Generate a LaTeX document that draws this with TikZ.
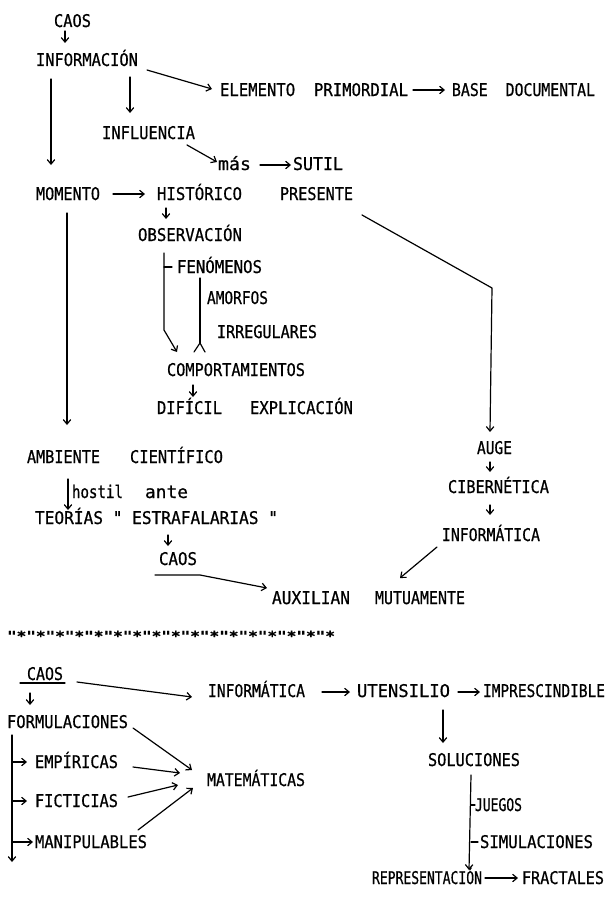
\documentclass[tikz,border=0pt]{standalone}
\usepackage{fontspec}
\usepackage{graphicx}
\usetikzlibrary{arrows.meta}
\newfontfamily\twfont[FakeBold=0.7]{DejaVu Sans Mono}
\newlength\fwlen
\newcommand\fw[2]{\settowidth\fwlen{#2}\pgfmathsetmacro\fwfac{#1/\fwlen}\scalebox{\fwfac}[1]{#2}}
\tikzset{
  txt/.style={anchor=base west, inner sep=0pt, outer sep=0pt, font=\twfont\fontsize{17.5pt}{19pt}\selectfont},
  starrow/.style={anchor=base west, inner sep=0pt, outer sep=0pt, font=\twfont\bfseries\fontsize{14pt}{16pt}\selectfont},
  ln/.style={line width=1.2pt, line cap=round, line join=round},
  arr/.style={ln, -{Straight Barb[length=4.5pt,width=7.5pt,line width=1.2pt]}}
}
\begin{document}
\begin{tikzpicture}[x=1pt,y=-1pt]
\useasboundingbox (0,0) rectangle (606,899);
% nodes
\node[txt] (caos1) at (54,27) {\fw{37}{CAOS}};
\node[txt] (info) at (36,66) {\fw{102}{INFORMACIÓN}};
\node[txt] (elem) at (220,96) {\fw{188}{ELEMENTO\ \ PRIMORDIAL}};
\node[txt] (base) at (452,96) {\fw{143}{BASE\ \ DOCUMENTAL}};
\node[txt] (infl) at (102,139) {\fw{93}{INFLUENCIA}};
\node[txt] (mas) at (218,170) {\fw{33}{más}};
\node[txt] (sutil) at (293,170) {\fw{50}{SUTIL}};
\node[txt] (momento) at (36,200) {\fw{64}{MOMENTO}};
\node[txt] (hist) at (157,200) {\fw{85}{HISTÓRICO}};
\node[txt] (pres) at (280,200) {\fw{73}{PRESENTE}};
\node[txt] (obs) at (138,241) {\fw{104}{OBSERVACIÓN}};
\node[txt] (fen) at (177,273) {\fw{85}{FENÓMENOS}};
\node[txt] (amorf) at (207,304) {\fw{61}{AMORFOS}};
\node[txt] (irreg) at (217,338) {\fw{100}{IRREGULARES}};
\node[txt] (comp) at (167,376) {\fw{138}{COMPORTAMIENTOS}};
\node[txt] (dific) at (157,414) {\fw{65}{DIFÍCIL}};
\node[txt] (expl) at (250,414) {\fw{103}{EXPLICACIÓN}};
\node[txt] (amb) at (27,463) {\fw{73}{AMBIENTE}};
\node[txt] (cient) at (130,463) {\fw{93}{CIENTÍFICO}};
\node[txt] (hostil) at (72,498) {\fw{51}{hostil}};
\node[txt] (ante) at (145,498) {\fw{43}{ante}};
\node[txt] (teor) at (35,524) {\fw{243}{TEORÍAS " ESTRAFALARIAS "}};
\node[txt] (caos2) at (159,565) {\fw{38}{CAOS}};
\node[txt] (aux) at (272,604) {\fw{78}{AUXILIAN}};
\node[txt] (mutu) at (375,604) {\fw{90}{MUTUAMENTE}};
\node[txt] (auge) at (477,454) {\fw{35}{AUGE}};
\node[txt] (ciber) at (448,493) {\fw{101}{CIBERNÉTICA}};
\node[txt] (infor1) at (442,541) {\fw{98}{INFORMÁTICA}};
\node[starrow] (stars) at (7,641) {\fw{328}{"*"*"*"*"*"*"*"*"*"*"*"*"*"*"*"*"*}};
\node[txt] (caos3) at (27,680) {\fw{36}{CAOS}};
\node[txt] (infor2) at (208,697) {\fw{97}{INFORMÁTICA}};
\node[txt] (uten) at (357,697) {\fw{93}{UTENSILIO}};
\node[txt] (impr) at (483,697) {\fw{122}{IMPRESCINDIBLE}};
\node[txt] (form) at (7,728) {\fw{121}{FORMULACIONES}};
\node[txt] (emp) at (35,768) {\fw{83}{EMPÍRICAS}};
\node[txt] (mate) at (207,786) {\fw{98}{MATEMÁTICAS}};
\node[txt] (fict) at (35,807) {\fw{83}{FICTICIAS}};
\node[txt] (manip) at (35,848) {\fw{112}{MANIPULABLES}};
\node[txt] (sol) at (428,766) {\fw{92}{SOLUCIONES}};
\node[txt] (jueg) at (475,811) {\fw{47}{JUEGOS}};
\node[txt] (simu) at (480,848) {\fw{113}{SIMULACIONES}};
\node[txt] (repr) at (372,884) {\fw{110}{REPRESENTACIÓN}};
\node[txt] (fract) at (522,884) {\fw{82}{FRACTALES}};
\coordinate (formend) at (12,862);
% connectors
\draw[arr] ([shift={(11,4)}]caos1.base west) -- ([shift={(29,-23)}]info.base west);
\draw[arr] ([shift={(111,4)}]info.base west) -- ([shift={(-8,-7)}]elem.base west);
\draw[arr] ([shift={(94,11)}]info.base west) -- ([shift={(28,-26)}]infl.base west);
\draw[arr] ([shift={(15,13)}]info.base west) -- ([shift={(15,-35)}]momento.base west);
\draw[arr] ([shift={(85,6)}]infl.base west) -- ([shift={(-1,-8)}]mas.base west);
\draw[arr] ([shift={(42,-5)}]mas.base west) -- ([shift={(-2,-5)}]sutil.base west);
\draw[arr] ([shift={(193,-6)}]elem.base west) -- ([shift={(-7,-6)}]base.base west);
\draw[arr] ([shift={(77,-6)}]momento.base west) -- ([shift={(-12,-6)}]hist.base west);
\draw[arr] ([shift={(9,8)}]hist.base west) -- ([shift={(28,-22)}]obs.base west);
\draw[arr] ([shift={(31,13)}]momento.base west) -- ([shift={(40,-38)}]amb.base west);
\draw[arr] ([shift={(26,12)}]obs.base west) -- ([shift={(26,89)}]obs.base west) -- ([shift={(10,-24)}]comp.base west);
\draw[ln] ([shift={(26,26)}]obs.base west) -- ([shift={(-5,-6)}]fen.base west);
\draw[ln] ([shift={(23,5)}]fen.base west) -- ([shift={(33,-33)}]comp.base west);
\draw[ln] ([shift={(27,-24)}]comp.base west) -- ([shift={(33,-33)}]comp.base west) -- ([shift={(38,-24)}]comp.base west);
\draw[arr] ([shift={(26,9)}]comp.base west) -- ([shift={(36,-17)}]dific.base west);
\draw[arr] ([shift={(82,15)}]pres.base west) -- ([shift={(15,-166)}]auge.base west) -- ([shift={(13,-22)}]auge.base west);
\draw[arr] ([shift={(13,8)}]auge.base west) -- ([shift={(42,-21)}]ciber.base west);
\draw[arr] ([shift={(42,12)}]ciber.base west) -- ([shift={(48,-26)}]infor1.base west);
\draw[arr] ([shift={(-5,6)}]infor1.base west) -- ([shift={(25,-26)}]mutu.base west);
\draw[arr] ([shift={(41,16)}]amb.base west) -- ([shift={(33,-14)}]teor.base west);
\draw[arr] ([shift={(133,11)}]teor.base west) -- ([shift={(9,-19)}]caos2.base west);
\draw[arr] ([shift={(-4,10)}]caos2.base west) -- ([shift={(41,10)}]caos2.base west) -- ([shift={(-5,-16)}]aux.base west);
\draw[ln] ([shift={(-7,3)}]caos3.base west) -- ([shift={(38,3)}]caos3.base west);
\draw[arr] ([shift={(50,2)}]caos3.base west) -- ([shift={(-16,0)}]infor2.base west);
\draw[arr] ([shift={(3,13)}]caos3.base west) -- ([shift={(23,-23)}]form.base west);
\draw[arr] ([shift={(126,0)}]form.base west) -- ([shift={(-15,-16)}]mate.base west);
\draw[arr] ([shift={(98,-1)}]emp.base west) -- ([shift={(-27,-13)}]mate.base west);
\draw[arr] ([shift={(93,-10)}]fict.base west) -- ([shift={(-29,-1)}]mate.base west);
\draw[arr] ([shift={(103,-18)}]manip.base west) -- ([shift={(-14,2)}]mate.base west);
\draw[arr] ([shift={(5,7)}]form.base west) -- (formend);
\draw[arr] ([shift={(-23,-6)}]emp.base west) -- ([shift={(-8,-6)}]emp.base west);
\draw[arr] ([shift={(-23,-6)}]fict.base west) -- ([shift={(-8,-6)}]fict.base west);
\draw[arr] ([shift={(-23,-6)}]manip.base west) -- ([shift={(-2,-6)}]manip.base west);
\draw[arr] ([shift={(114,-5)}]infor2.base west) -- ([shift={(-7,-5)}]uten.base west);
\draw[arr] ([shift={(101,-5)}]uten.base west) -- ([shift={(-3,-5)}]impr.base west);
\draw[arr] ([shift={(86,13)}]uten.base west) -- ([shift={(15,-23)}]sol.base west);
\draw[arr] ([shift={(43,9)}]sol.base west) -- ([shift={(97,-14)}]repr.base west);
\draw[ln] ([shift={(-4,-6)}]jueg.base west) -- ([shift={(0,-6)}]jueg.base west);
\draw[ln] ([shift={(-9,-6)}]simu.base west) -- ([shift={(-2,-6)}]simu.base west);
\draw[arr] ([shift={(113,-6)}]repr.base west) -- ([shift={(-4,-6)}]fract.base west);
\end{tikzpicture}
\end{document}
